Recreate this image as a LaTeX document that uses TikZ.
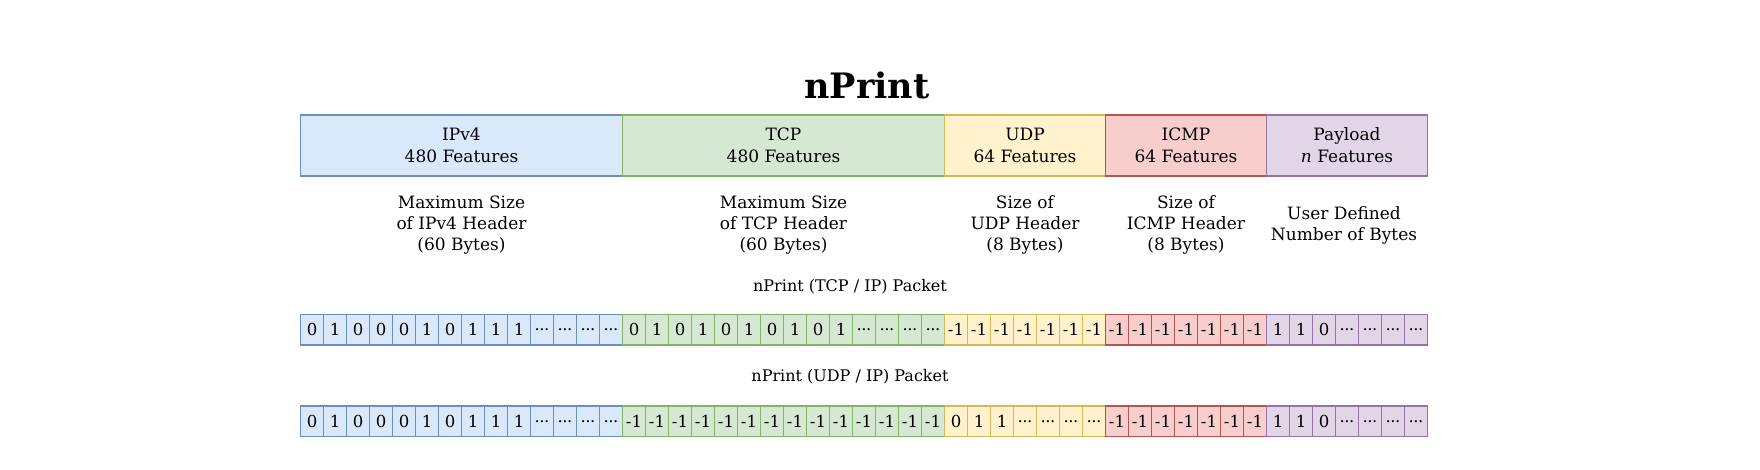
\documentclass[tikz,border=0pt]{standalone}
\usepackage{fontspec}
\setmainfont{DejaVu Serif}
\definecolor{bfill}{HTML}{DAE8FC}\definecolor{bdraw}{HTML}{6C8EBF}
\definecolor{gfill}{HTML}{D5E8D4}\definecolor{gdraw}{HTML}{82B366}
\definecolor{yfill}{HTML}{FFF2CC}\definecolor{ydraw}{HTML}{D6B656}
\definecolor{rfill}{HTML}{F8CECC}\definecolor{rdraw}{HTML}{B85450}
\definecolor{pfill}{HTML}{E1D5E7}\definecolor{pdraw}{HTML}{9673A6}
\tikzset{
  hdr/.style={draw, line width=1.6pt, minimum height=61pt, inner sep=0pt, align=center, font=\fontsize{17}{22}\selectfont},
  cellbox/.style={draw, line width=1.6pt, minimum width=23pt, minimum height=30.5pt, inner sep=0pt, font=\fontsize{16.5}{18}\selectfont},
  desc/.style={align=center, inner sep=0pt, font=\fontsize{17}{21}\selectfont},
  pkt/.style={inner sep=0pt, anchor=base, font=\fontsize{16}{20}\selectfont},
  ipv/.style={fill=bfill, draw=bdraw},
  tcp/.style={fill=gfill, draw=gdraw},
  udp/.style={fill=yfill, draw=ydraw},
  icmp/.style={fill=rfill, draw=rdraw},
  pay/.style={fill=pfill, draw=pdraw},
}
\newcommand\cellseg[5]{%
  \foreach \v [count=\k from #3] in {#5}
    \node[cellbox,#4] (#1c\k) at ({300.5+23*\k+11.5},#2) {\v};}
\newcommand\dd{\kern-0.5pt.\kern-0.5pt.\kern-0.5pt.\kern-0.5pt}
\begin{document}
\begin{tikzpicture}[x=1pt,y=-1pt]
\useasboundingbox (0,0) rectangle (1760,470);
% title
\node[inner sep=0pt, anchor=base, font=\fontsize{35}{40}\selectfont\bfseries] (title) at (867,99) {nPrint};
% header boxes
\node[hdr, ipv, minimum width=322pt] (hipv) at (461.5,145.5) {IPv4\\480 Features};
\node[hdr, tcp, minimum width=322pt] (htcp) at (783.5,145.5) {TCP\\480 Features};
\node[hdr, udp, minimum width=161pt] (hudp) at (1025,145.5) {UDP\\64 Features};
\node[hdr, icmp, minimum width=161pt] (hicmp) at (1186,145.5) {ICMP\\64 Features};
\node[hdr, pay, minimum width=161pt] (hpay) at (1347,145.5) {Payload\\\textit{n} Features};
% descriptions
\node[desc] (dipv) at (461.5,225) {Maximum Size\\of IPv4 Header\\(60 Bytes)};
\node[desc] (dtcp) at (783.5,225) {Maximum Size\\of TCP Header\\(60 Bytes)};
\node[desc] (dudp) at (1025,225) {Size of\\UDP Header\\(8 Bytes)};
\node[desc] (dicmp) at (1186,225) {Size of\\ICMP Header\\(8 Bytes)};
\node[desc] (dpay) at (1344,225) {User Defined\\Number of Bytes};
% packet labels
\node[pkt] (ltcp) at (850,291.5) {nPrint (TCP / IP) Packet};
\node[pkt] (ludp) at (850,381.5) {nPrint (UDP / IP) Packet};
% row 1 (TCP/IP)
\cellseg{ra}{329.75}{0}{ipv}{0,1,0,0,0,1,0,1,1,1,\dd,\dd,\dd,\dd}
\cellseg{ra}{329.75}{14}{tcp}{0,1,0,1,0,1,0,1,0,1,\dd,\dd,\dd,\dd}
\cellseg{ra}{329.75}{28}{udp}{-1,-1,-1,-1,-1,-1,-1}
\cellseg{ra}{329.75}{35}{icmp}{-1,-1,-1,-1,-1,-1,-1}
\cellseg{ra}{329.75}{42}{pay}{1,1,0,\dd,\dd,\dd,\dd}
% row 2 (UDP/IP)
\cellseg{rb}{421.25}{0}{ipv}{0,1,0,0,0,1,0,1,1,1,\dd,\dd,\dd,\dd}
\cellseg{rb}{421.25}{14}{tcp}{-1,-1,-1,-1,-1,-1,-1,-1,-1,-1,-1,-1,-1,-1}
\cellseg{rb}{421.25}{28}{udp}{0,1,1,\dd,\dd,\dd,\dd}
\cellseg{rb}{421.25}{35}{icmp}{-1,-1,-1,-1,-1,-1,-1}
\cellseg{rb}{421.25}{42}{pay}{1,1,0,\dd,\dd,\dd,\dd}
\end{tikzpicture}
\end{document}
